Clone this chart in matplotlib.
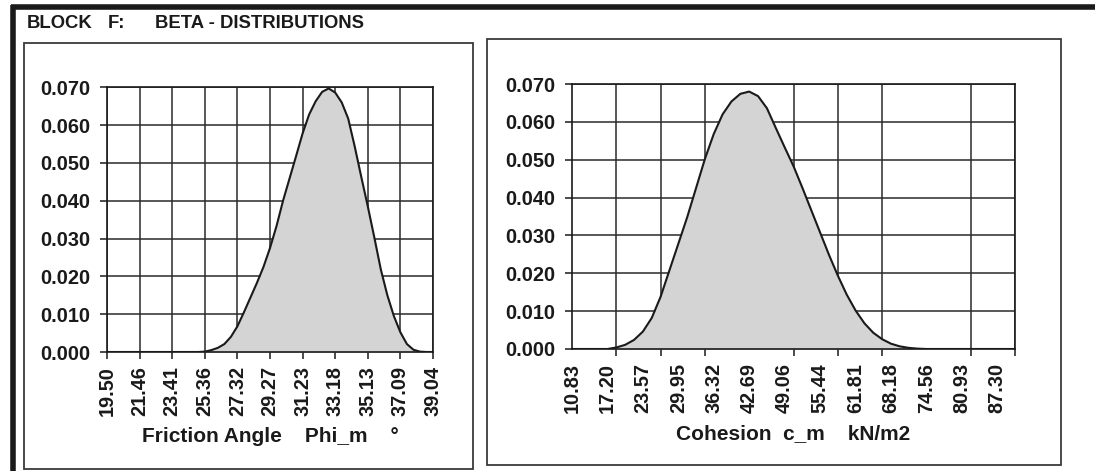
import matplotlib
matplotlib.use("Agg")
import matplotlib.pyplot as plt
from matplotlib.patches import Rectangle
from matplotlib.lines import Line2D
import numpy as np

plt.rcParams['font.family'] = ['Liberation Sans', 'DejaVu Sans']
plt.rcParams['font.weight'] = 'bold'

# ---------------- data ----------------
title_parts = ["BLOCK", "F:", "BETA - DISTRIBUTIONS"]

# Friction angle (51 points, start 19.50, step 0.3908)
phi_start = 19.50
phi_step = 0.3908
phi_density = [0, 0, 0, 0, 0, 0, 0, 0, 0, 0,
               0, 0, 0, 0, 0.0000, 0.0001, 0.0005, 0.0011, 0.0021, 0.0040,
               0.0068, 0.0105, 0.0144, 0.0183, 0.0225, 0.0275, 0.0333, 0.0400, 0.0459, 0.0518,
               0.0578, 0.0628, 0.0663, 0.0688, 0.0697, 0.0686, 0.0660, 0.0617, 0.0543, 0.0463,
               0.0385, 0.0303, 0.0218, 0.0150, 0.0095, 0.0052, 0.0021, 0.0006, 0.0001, 0,
               0]
phi_ticklabels = ["19.50", "21.46", "23.41", "25.36", "27.32", "29.27",
                  "31.23", "33.18", "35.13", "37.09", "39.04"]

# Cohesion (51 points, start 10.83, step 1.5925)
c_start = 10.83
c_step = 1.5925
c_density = [0, 0, 0, 0, 0.0000, 0.0004, 0.0011, 0.0024, 0.0046, 0.0082,
             0.0138, 0.0208, 0.0278, 0.0348, 0.0425, 0.0502, 0.0568, 0.0620, 0.0654, 0.0674,
             0.0680, 0.0668, 0.0636, 0.0584, 0.0533, 0.0483, 0.0426, 0.0367, 0.0308, 0.0249,
             0.0194, 0.0144, 0.0102, 0.0068, 0.0043, 0.0026, 0.0014, 0.0007, 0.0003, 0.0001,
             0, 0, 0, 0, 0, 0, 0, 0, 0, 0,
             0]
c_ticklabels = ["10.83", "17.20", "23.57", "29.95", "36.32", "42.69", "49.06",
                "55.44", "61.81", "68.18", "74.56", "80.93", "87.30"]

y_ticks = [0.000, 0.010, 0.020, 0.030, 0.040, 0.050, 0.060, 0.070]

xlabel_phi = "Friction Angle    Phi_m    °"
xlabel_c = "Cohesion  c_m    kN/m2"

# ---------------- figure ----------------
W, H = 1095, 471
fig = plt.figure(figsize=(W / 100, H / 100), dpi=100)
fig.patch.set_facecolor('white')


def px_rect(x0, y0, x1, y1):
    return [x0 / W, 1 - y1 / H, (x1 - x0) / W, (y1 - y0) / H]


def fig_line(xs, ys, lw, color='#1a1a1a'):
    fig.add_artist(Line2D([x / W for x in xs], [1 - y / H for y in ys],
                          transform=fig.transFigure, lw=lw, color=color,
                          solid_capstyle='butt'))


def fig_box(x0, y0, x1, y1, lw=1.3, color='#3a3a3a'):
    fig.add_artist(Rectangle((x0 / W, 1 - y1 / H), (x1 - x0) / W, (y1 - y0) / H,
                             transform=fig.transFigure, fill=False, lw=lw,
                             edgecolor=color))


# outer frame (thick top and left)
fig_line([11, 1095], [7, 7], 4.0)
fig_line([13, 13], [5, 471], 4.0)

# panel boxes
fig_box(24, 43, 473, 469)
fig_box(487, 39, 1061, 465)

# title
for txt, xp in zip(title_parts, [27, 108, 155]):
    fig.text(xp / W, 1 - 24 / H, txt, fontsize=13.3, fontweight='bold',
             va='center', ha='left', color='#1a1a1a')

tick_fs = 14.3
label_fs = 15
grid_color = '#2a2a2a'
fill_color = '#d4d4d4'


def style_axes(ax):
    ax.set_ylim(0, 0.070)
    ax.set_yticks(y_ticks)
    ax.set_yticklabels([f"{v:.3f}" for v in y_ticks], fontsize=tick_fs, fontweight='bold')
    ax.grid(True, axis='y', color=grid_color, lw=1.1)
    for s in ax.spines.values():
        s.set_color('#1a1a1a')
        s.set_linewidth(1.2)
    ax.tick_params(axis='y', direction='out', length=5, width=1.1, pad=7, colors='#1a1a1a')
    ax.set_axisbelow(True)
    ax.set_facecolor('none')


# ---- left: friction angle ----
axL = fig.add_axes(px_rect(107, 87.3, 433, 352))
phi_x = phi_start + phi_step * np.arange(len(phi_density))
axL.fill_between(phi_x, phi_density, 0, color=fill_color, lw=0)
axL.plot(phi_x, phi_density, color='#1a1a1a', lw=1.5)
axL.set_xlim(phi_x[0], phi_x[-1])
phi_tick_pos = phi_x[::5]
axL.set_xticks(phi_tick_pos)
axL.set_xticklabels(phi_ticklabels, rotation=90, fontsize=tick_fs, fontweight='bold')
axL.grid(True, axis='x', color=grid_color, lw=1.1)
axL.tick_params(axis='x', direction='out', length=5, width=1.1, pad=5, colors='#1a1a1a')
style_axes(axL)
axL.set_xlabel(xlabel_phi, fontsize=label_fs, fontweight='bold', labelpad=8, color='#1a1a1a')

# ---- right: cohesion ----
axR = fig.add_axes(px_rect(572, 84, 1015, 349))
c_x = c_start + c_step * np.arange(len(c_density))
axR.fill_between(c_x, c_density, 0, color=fill_color, lw=0)
axR.plot(c_x, c_density, color='#1a1a1a', lw=1.5)
axR.set_xlim(c_x[0], c_x[-1])
axR.set_xticks(c_x[::4][:len(c_ticklabels)])
axR.set_xticklabels(c_ticklabels, rotation=90, fontsize=tick_fs, fontweight='bold')
axR.set_xticks(c_x[::5], minor=True)
axR.grid(True, axis='x', which='minor', color=grid_color, lw=1.1)
axR.tick_params(axis='x', which='major', length=0, pad=10, colors='#1a1a1a')
axR.tick_params(axis='x', which='minor', direction='out', length=5, width=1.1, colors='#1a1a1a')
style_axes(axR)
axR.set_xlabel(xlabel_c, fontsize=label_fs, fontweight='bold', labelpad=8, color='#1a1a1a')

fig.savefig("out.png", dpi=100, facecolor='white')
